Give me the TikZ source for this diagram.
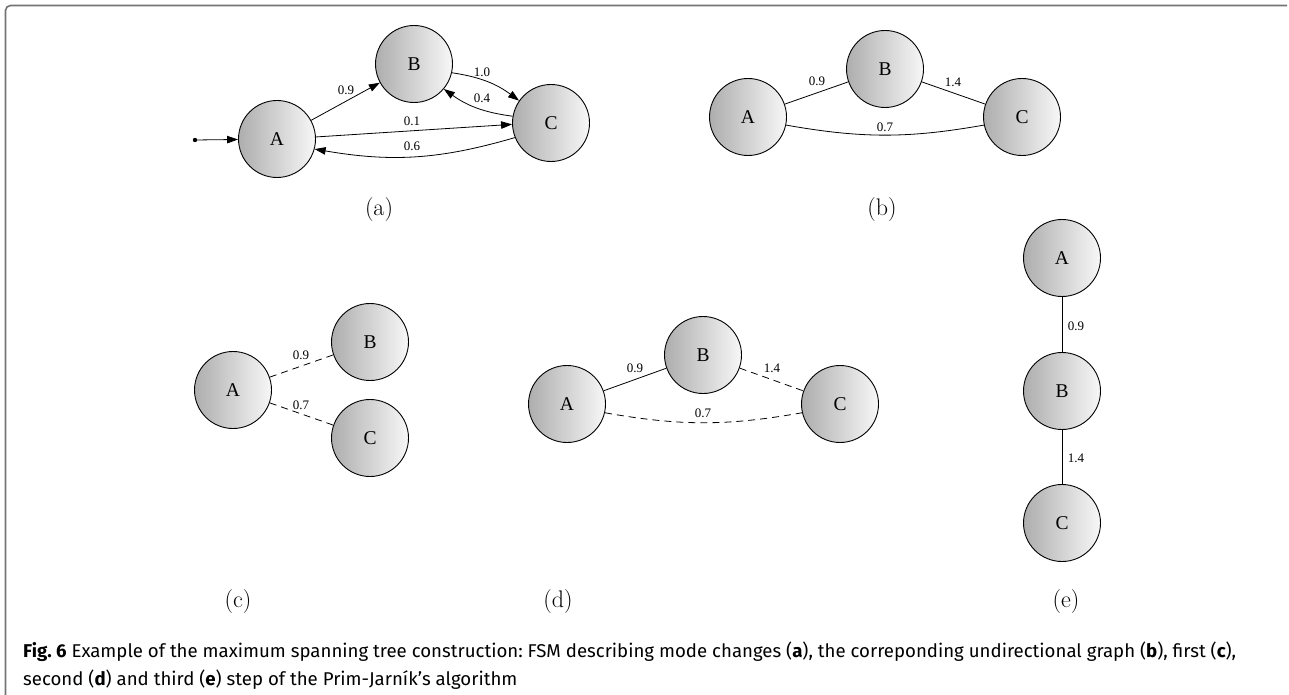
\documentclass[tikz,border=0pt]{standalone}
\usepackage{fontspec}
\newfontfamily\statefont{Liberation Serif}
\newfontfamily\capfont{Fira Sans}
\usetikzlibrary{arrows.meta}
\frenchspacing
\newcommand\capsize{\capfont\fontsize{18.5}{20}\selectfont}
\newcommand\caplineone{{\bfseries Fig. 6} Example of the maximum spanning tree construction: FSM describing mode changes ({\bfseries a}), the correponding undirectional graph ({\bfseries b}), first ({\bfseries c}),}
\newcommand\caplinetwo{second ({\bfseries d}) and third ({\bfseries e}) step of the Prim-Jarník’s algorithm}
\newlength\capw
\begin{document}
\settowidth\capw{\capsize\caplineone}
\pgfmathsetmacro\capsx{1213/(\capw/1pt)}
\begin{tikzpicture}[x=1pt,y=1pt,
  state/.style={circle, draw=black, line width=0.9pt, minimum size=77pt, inner sep=0pt,
    left color=black!32, right color=black!3, font=\statefont\fontsize{19.5}{20}\selectfont},
  wt/.style={font=\statefont\fontsize{13}{13}\selectfont, inner sep=0pt},
  sub/.style={font=\fontsize{24}{26}\selectfont, inner sep=0pt},
  edge/.style={draw=black, line width=0.8pt},
  arr/.style={edge, -{Triangle[length=11pt,width=7.5pt]}},
  dsh/.style={edge, dash pattern=on 7pt off 5pt},
  capline/.style={anchor=base west, inner sep=0pt, font=\capsize}
]
\useasboundingbox (0,0) rectangle (1289,-695);

% frame
\draw[black!55, line width=1.6pt, rounded corners=5pt] (1287,-5.5) -- (5.5,-5.5) -- (5.5,-695);

% (a) finite state machine
\node[state] (aA) at (277,-139) {A};
\node[state] (aB) at (414,-64) {B};
\node[state] (aC) at (551,-123) {C};
\coordinate (a0) at (195,-140);
\fill (a0) circle (2.2);
\draw[arr] (a0) -- (aA);
\draw[arr] (aA) -- (aB);
\draw[arr] (aB.-13) to[bend left=14] (aC.145);
\draw[arr] (aC.170) to[bend left=14] (aB.-40);
\draw[arr] (aA.3) -- (aC.182);
\draw[arr] (aC.-158) to[bend left=13] (aA.-15);
\node[wt] at (346,-90) {0.9};
\node[wt] at (482,-72) {1.0};
\node[wt] at (482,-98) {0.4};
\node[wt] at (412,-121) {0.1};
\node[wt] at (412,-146) {0.6};
\node[sub] at (379,-210) {(a)};

% (b) undirected graph
\node[state] (bA) at (748,-117) {A};
\node[state] (bB) at (885,-69) {B};
\node[state] (bC) at (1022,-117) {C};
\draw[edge] (bA) -- (bB);
\draw[edge] (bB) -- (bC);
\draw[edge] (bA.-12) to[bend right=10] (bC.-168);
\node[wt] at (817,-81) {0.9};
\node[wt] at (953,-82) {1.4};
\node[wt] at (885,-127) {0.7};
\node[sub] at (882,-210) {(b)};

% (c) first step
\node[state] (cA) at (233,-390) {A};
\node[state] (cB) at (370,-342) {B};
\node[state] (cC) at (370,-438) {C};
\draw[dsh] (cA) -- (cB);
\draw[dsh] (cA) -- (cC);
\node[wt] at (301,-355) {0.9};
\node[wt] at (301,-405) {0.7};
\node[sub] at (238,-602) {(c)};

% (d) second step
\node[state] (dA) at (567,-404) {A};
\node[state] (dB) at (703,-355) {B};
\node[state] (dC) at (840,-404) {C};
\draw[edge] (dA) -- (dB);
\draw[dsh] (dB) -- (dC);
\draw[dsh] (dA.-13) to[bend right=10] (dC.-167);
\node[wt] at (635,-368) {0.9};
\node[wt] at (772,-368) {1.4};
\node[wt] at (703,-413) {0.7};
\node[sub] at (558,-602) {(d)};

% (e) third step
\node[state] (eA) at (1062,-258) {A};
\node[state] (eB) at (1062,-391) {B};
\node[state] (eC) at (1062,-523) {C};
\draw[edge] (eA) -- (eB);
\draw[edge] (eB) -- (eC);
\node[wt] at (1076,-326) {0.9};
\node[wt] at (1076,-458) {1.4};
\node[sub] at (1066,-602) {(e)};

% caption, condensed to the text block width
\node[capline] (cap1) at (23,-657) {\scalebox{\capsx}[1]{\caplineone}};
\node[capline] (cap2) at (23,-685) {\scalebox{\capsx}[1]{\caplinetwo}};
\end{tikzpicture}
\end{document}
